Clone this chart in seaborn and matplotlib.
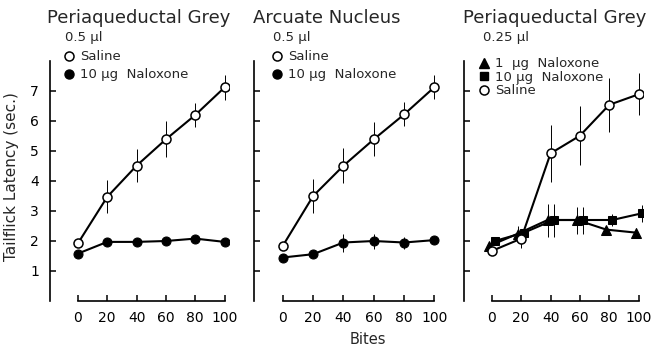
import matplotlib
matplotlib.use("Agg")
import matplotlib.pyplot as plt
from matplotlib.lines import Line2D
import seaborn as sns
import pandas as pd

# Data (tailflick latency in sec.)
bites = [0, 20, 40, 60, 80, 100]

pag05_saline = [1.92, 3.47, 4.51, 5.39, 6.20, 7.12]
pag05_saline_err = [0.10, 0.55, 0.55, 0.60, 0.40, 0.42]
pag05_nal10 = [1.58, 1.97, 1.97, 2.00, 2.08, 1.97]
pag05_nal10_err = [0.05, 0.08, 0.08, 0.08, 0.08, 0.06]

arc_saline = [1.84, 3.50, 4.51, 5.39, 6.22, 7.13]
arc_saline_err = [0.08, 0.58, 0.58, 0.57, 0.40, 0.40]
arc_nal10 = [1.45, 1.56, 1.95, 2.00, 1.95, 2.03]
arc_nal10_err = [0.05, 0.08, 0.30, 0.25, 0.20, 0.10]

pag025_saline = [1.67, 2.08, 4.92, 5.51, 6.54, 6.89]
pag025_saline_err = [0.10, 0.30, 0.96, 0.98, 0.90, 0.70]
pag025_nal1 = [1.83, 2.25, 2.70, 2.70, 2.38, 2.28]
pag025_nal1_err = [0.10, 0.25, 0.55, 0.45, 0.10, 0.15]
pag025_nal10 = [2.00, 2.28, 2.70, 2.70, 2.70, 2.92]
pag025_nal10_err = [0.10, 0.20, 0.55, 0.45, 0.20, 0.28]

titles = ["Periaqueductal Grey", "Arcuate Nucleus", "Periaqueductal Grey"]
volumes = ["0.5 \u00b5l", "0.5 \u00b5l", "0.25 \u00b5l"]

sns.set_theme(style="ticks")
plt.rcParams["font.family"] = ["DejaVu Sans"]
plt.rcParams["axes.edgecolor"] = "black"
plt.rcParams["xtick.color"] = "black"
plt.rcParams["ytick.color"] = "black"

fig = plt.figure(figsize=(6.59, 3.48), dpi=100)

# axes boxes in pixels: (left spine x, width)
boxes = [(50, 179), (254, 185), (464, 179)]
axes = []
for left, width in boxes:
    ax = fig.add_axes([left / 659, 47 / 348, width / 659, 240 / 348])
    axes.append(ax)

# marker styles
open_c = dict(marker="o", markerfacecolor="white", markeredgecolor="black",
              markeredgewidth=1.1, markersize=6.5)
fill_c = dict(marker="o", markerfacecolor="black", markeredgecolor="black",
              markersize=6.5)
tri = dict(marker="^", markerfacecolor="black", markeredgecolor="black",
           markersize=6.5)
sq = dict(marker="s", markerfacecolor="black", markeredgecolor="black",
          markersize=5.5)

panels = [
    [(pag05_saline, pag05_saline_err, open_c, 0, "Saline"),
     (pag05_nal10, pag05_nal10_err, fill_c, 0, "10 \u00b5g  Naloxone")],
    [(arc_saline, arc_saline_err, open_c, 0, "Saline"),
     (arc_nal10, arc_nal10_err, fill_c, 0, "10 \u00b5g  Naloxone")],
    [(pag025_nal1, pag025_nal1_err, tri, -2, "1  \u00b5g  Naloxone"),
     (pag025_nal10, pag025_nal10_err, sq, 2, "10 \u00b5g  Naloxone"),
     (pag025_saline, pag025_saline_err, open_c, 0, "Saline")],
]

# per-panel placement (axes fraction)
title_x = [-0.017, -0.005, -0.006]
vol_x = [0.084, 0.103, 0.106]
leg_x = [0.08, 0.10, 0.086]
leg_top = [1.044, 1.044, 1.015]
leg_spacing = [0.36, 0.36, 0.03]

for i, (ax, series) in enumerate(zip(axes, panels)):
    handles, labels = [], []
    for vals, errs, mstyle, dx, lab in series:
        xs = [b + dx for b in bites]
        df = pd.DataFrame({"bites": xs, "latency": vals})
        ax.errorbar(xs, vals, yerr=errs, fmt="none", ecolor="black",
                    elinewidth=0.7, capsize=0, zorder=2)
        sns.lineplot(data=df, x="bites", y="latency", ax=ax, color="black",
                     linewidth=1.5, zorder=3, legend=False, **mstyle)
        handles.append(Line2D([], [], linestyle="none", **mstyle))
        labels.append(lab)

    ax.set_xlim(-19, 103)
    ax.set_ylim(0, 8)
    ax.set_xlabel("")
    ax.set_ylabel("")
    ax.set_xticks(bites)
    ax.set_yticks(range(1, 8))
    ax.spines["top"].set_visible(False)
    ax.spines["right"].set_visible(False)
    ax.spines["bottom"].set_bounds(0, 100)
    ax.spines["bottom"].set_linewidth(1.2)
    ax.spines["left"].set_linewidth(1.2)
    ax.tick_params(axis="x", direction="in", length=4, width=1.1,
                   pad=7, labelsize=10)
    ax.tick_params(axis="y", direction="in", length=4, width=1.1,
                   pad=8, labelsize=10)
    if i > 0:
        ax.set_yticklabels([])

    ax.text(title_x[i], 1.179, titles[i], transform=ax.transAxes,
            ha="left", va="center", fontsize=13)
    ax.text(vol_x[i], 1.096, volumes[i], transform=ax.transAxes,
            ha="left", va="center", fontsize=9.5)
    ax.legend(handles, labels, loc="upper left",
              bbox_to_anchor=(leg_x[i], leg_top[i]), frameon=False,
              fontsize=9.5, handlelength=0.7, handletextpad=0.5,
              labelspacing=leg_spacing[i], borderaxespad=0, borderpad=0)

fig.text(12 / 659, 1 - 177 / 348, "Tailflick Latency (sec.)", rotation=90,
         ha="center", va="center", fontsize=11)
fig.text(368 / 659, 1 - 340 / 348, "Bites", ha="center", va="center",
         fontsize=10.5)

fig.savefig("out.png", dpi=100)
